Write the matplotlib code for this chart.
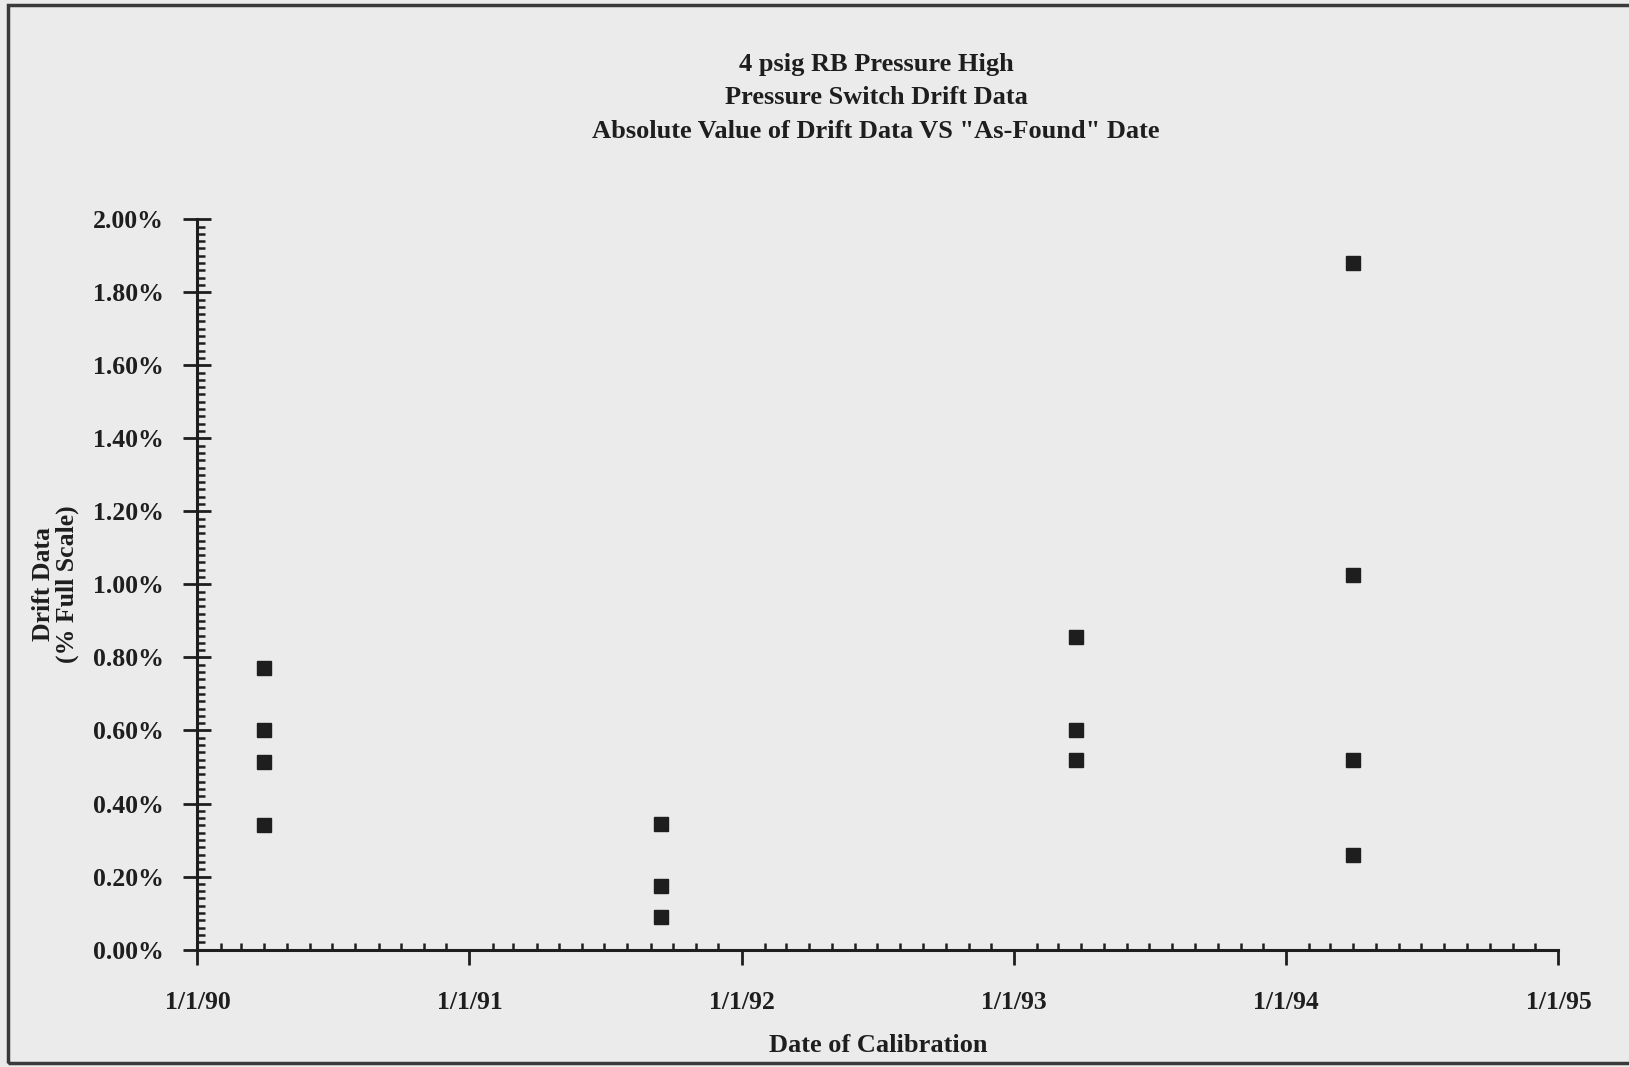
import datetime as dt
import matplotlib
matplotlib.use("Agg")
import matplotlib.pyplot as plt
import matplotlib.dates as mdates
from matplotlib.ticker import MultipleLocator, FuncFormatter
from matplotlib.patches import Rectangle

# calibration dates and absolute drift (% full scale)
dates_1990 = [dt.date(1990, 4, 1)] * 4
drift_1990 = [0.77, 0.60, 0.515, 0.34]
dates_1991 = [dt.date(1991, 9, 15)] * 3
drift_1991 = [0.345, 0.175, 0.09]
dates_1993 = [dt.date(1993, 3, 25)] * 3
drift_1993 = [0.855, 0.60, 0.52]
dates_1994 = [dt.date(1994, 4, 1)] * 4
drift_1994 = [1.88, 1.025, 0.52, 0.26]

title_lines = ["4 psig RB Pressure High",
               "Pressure Switch Drift Data",
               'Absolute Value of Drift Data VS "As-Found" Date']

bg = "#ebebeb"
ink = "#1e1e1e"
plt.rcParams["font.family"] = ["Liberation Serif", "DejaVu Serif"]
plt.rcParams["font.weight"] = "bold"

fig = plt.figure(figsize=(16.29, 10.67), dpi=100, facecolor=bg)
W, H = 1629, 1067
ax = fig.add_axes([197.4 / W, 1 - 949.6 / H, 1361 / W, 730.4 / H], facecolor=bg)

x = dates_1990 + dates_1991 + dates_1993 + dates_1994
y = drift_1990 + drift_1991 + drift_1993 + drift_1994
ax.plot(x, y, linestyle="none", marker="s", markersize=9.5, color=ink, markeredgecolor=ink)

ax.set_xlim(dt.date(1990, 1, 1), dt.date(1995, 1, 1))
ax.set_ylim(0, 2.0)

for s in ["top", "right"]:
    ax.spines[s].set_visible(False)
for s in ["left", "bottom"]:
    ax.spines[s].set_color(ink)
    ax.spines[s].set_linewidth(2.2)

ax.xaxis.set_major_locator(mdates.YearLocator())
ax.xaxis.set_minor_locator(mdates.MonthLocator())
ax.xaxis.set_major_formatter(FuncFormatter(
    lambda v, p: (lambda d: f"{d.month}/{d.day}/{d:%y}")(mdates.num2date(v))))
ax.yaxis.set_major_locator(MultipleLocator(0.2))
ax.yaxis.set_minor_locator(MultipleLocator(0.02))
ax.yaxis.set_major_formatter(FuncFormatter(lambda v, p: f"{v:.2f}%"))

ax.tick_params(axis="x", which="major", direction="out", length=11, width=2,
               color=ink, labelsize=18.5, labelcolor=ink, pad=19)
ax.tick_params(axis="x", which="minor", direction="in", length=5, width=1.8, color=ink)
ax.tick_params(axis="y", which="major", direction="inout", length=20, width=2,
               color=ink, labelsize=18.5, labelcolor=ink, pad=14)
ax.tick_params(axis="y", which="minor", direction="in", length=6, width=1.8, color=ink)
for lab in ax.get_xticklabels() + ax.get_yticklabels():
    lab.set_fontweight("bold")

ax.set_xlabel("Date of Calibration", fontsize=19, fontweight="bold", color=ink, labelpad=14)
ax.set_ylabel("Drift Data\n(% Full Scale)", fontsize=18.5, fontweight="bold", color=ink,
              labelpad=10, linespacing=1.05)

for i, line in enumerate(title_lines):
    fig.text(876 / W, 1 - (64 + 33.5 * i) / H, line, ha="center", va="center",
             fontsize=19, fontweight="bold", color=ink)

fig.patches.append(Rectangle((8 / W, 1 - 1063 / H), 1640 / W, 1058 / H,
                             transform=fig.transFigure, fill=False,
                             edgecolor="#3a3a3a", linewidth=2.5))

fig.savefig("out.png", dpi=100, facecolor=bg)
